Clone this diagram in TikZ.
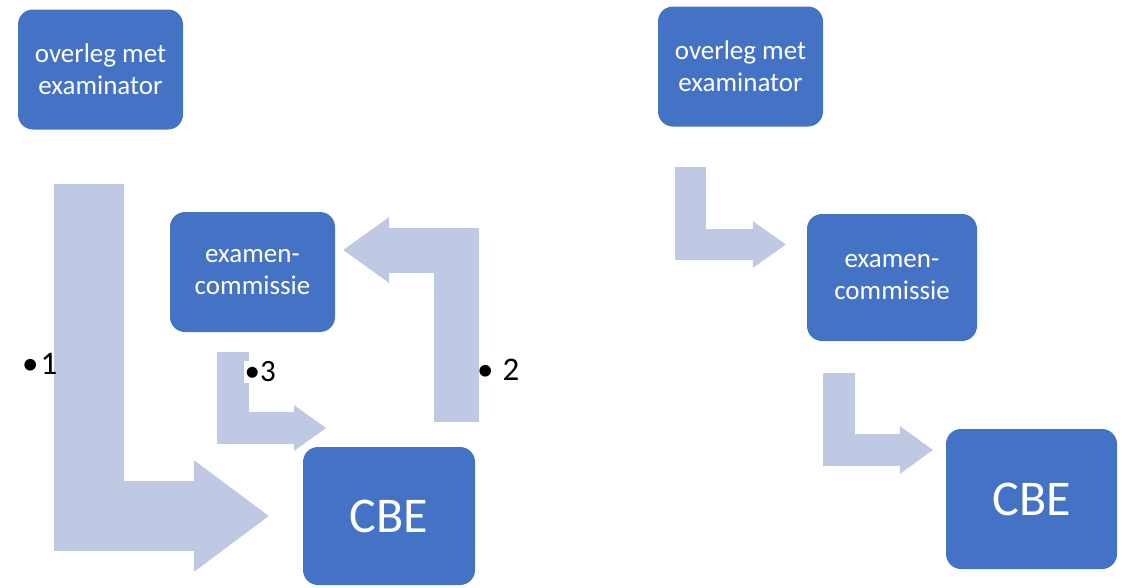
\documentclass[tikz,border=0pt]{standalone}
\usepackage{fontspec}
\setmainfont{Carlito}
\usepackage{tikz}
\usetikzlibrary{positioning,arrows.meta}
\definecolor{boxblue}{RGB}{68,114,196}
\definecolor{flowblue}{RGB}{191,201,227}
\tikzstyle{stepbox} = [rectangle, rounded corners=15pt, fill=boxblue, text=white, align=center, inner sep=0pt, font=\fontsize{27}{32}\selectfont, minimum width=165pt, minimum height=120pt]
\tikzstyle{cbebox} = [stepbox, minimum width=172pt, minimum height=138pt, font=\fontsize{50}{54}\selectfont]
\tikzstyle{num} = [anchor=west, inner sep=0pt, font=\fontsize{33}{35}\selectfont]
\tikzset{flow/.style args={#1/#2/#3}{draw=flowblue, line width=#1pt, line join=miter, line cap=butt,
    -{Triangle[length=#2pt, width=#3pt, line width=0pt]}}}

\begin{document}
\begin{tikzpicture}[x=1pt, y=-1pt]
    \useasboundingbox (0,0) rectangle (1125,587);

    % Left: three routes to the CBE
    \node[stepbox] (overleg1) at (100.5,69.5) {overleg met\\examinator};
    \node[stepbox] (exam1) at (252.5,272) {examen-\\commissie};
    \node[cbebox] (cbe1) at (389,516) {CBE};

    \coordinate (a1) at (89,184);
    \coordinate (a2) at (456,422);
    \coordinate (a3) at (233,352);
    \coordinate (t3) at (326,428);

    \draw[flow=70/75/112, shorten >=34pt] (a1) |- (cbe1.west);
    \draw[flow=45/46/66, shorten >=8pt] (a2) |- ([yshift=22pt]exam1.east);
    \draw[flow=32/32/46] (a3) |- (t3);

    \node[num] (n1) at (22,364) {•\kern2pt1};
    \node[num] (n2) at (477,370) {•\kern9pt2};
    \node[num, fill=white, font=\fontsize{31}{33}\selectfont, inner sep=0.5pt] (n3) at (244,372) {•3};

    % Right: one route via the examencommissie
    \node[stepbox] (overleg2) at (740.5,66.5) {overleg met\\examinator};
    \node[stepbox, minimum width=170pt, minimum height=127pt] (exam2) at (892,277.5) {examen-\\commissie};
    \node[cbebox, minimum width=171pt, minimum height=140pt] (cbe2) at (1031.5,499) {CBE};

    \coordinate (b1) at (690.5,167);
    \coordinate (b2) at (838.5,373);

    \draw[flow=31/33/47, shorten >=21pt] (b1) |- ([yshift=33pt]exam2.west);
    \draw[flow=32/33/48, shorten >=13pt] (b2) |- ([yshift=49pt]cbe2.west);
\end{tikzpicture}
\end{document}
